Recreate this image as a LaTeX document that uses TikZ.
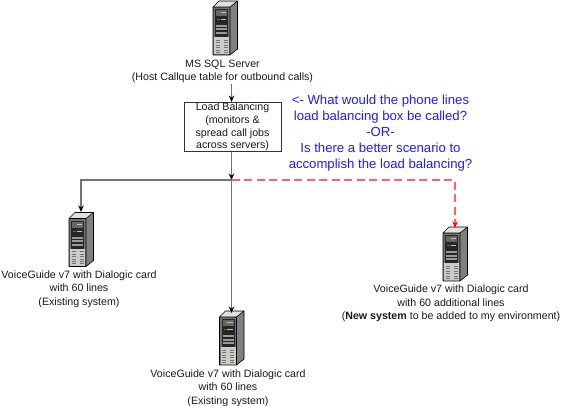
\documentclass[tikz,border=0pt]{standalone}
\usepackage{fontspec}
\setmainfont{Liberation Sans}
\usetikzlibrary{arrows.meta}
\definecolor{bluetxt}{RGB}{30,30,240}
\definecolor{reddash}{RGB}{255,100,110}
\tikzset{
  x=1pt,y=-1pt,
  lbl/.style={align=center,font=\fontsize{10.65}{13.4}\selectfont,inner sep=0pt,text=black!90},
  boxlbl/.style={align=center,font=\fontsize{10.65}{12.8}\selectfont,inner sep=0pt,text=black!90},
  question/.style={align=center,font=\fontsize{13.15}{16}\selectfont,inner sep=0pt,text=bluetxt},
  boxnode/.style={draw=black!80,line width=1pt,fill=white,inner sep=0pt,minimum width=97pt,minimum height=49pt},
  anchorbox/.style={inner sep=0pt,minimum width=25pt,minimum height=54pt},
  conn/.style={draw=black!55,line width=1.3pt},
  tip/.style={-{Stealth[length=6.5pt,width=5.5pt,black]}},
  rtip/.style={-{Stealth[length=6.5pt,width=5.5pt,red]}},
  redconn/.style={draw=reddash,line width=1.3pt,dash pattern=on 8pt off 4.5pt},
  pics/serverpic/.style={code={
    % origin: top-left of icon; 24.5 x 54
    \fill[black!50] (17,6)--(24.5,0)--(24.5,48)--(17,54)--cycle;
    \fill[black!12] (0,6)--(6,0)--(24.5,0)--(17,6)--cycle;
    \fill[black!55] (0,6) rectangle (17,54);
    \fill[black!20] (1,36) rectangle (16,53.5);
    \fill[black!85] (2,8) rectangle (15,36);
    \fill[black!60] (3,9) rectangle (14,15);
    \fill[green!70!black] (4,11) rectangle (6.5,12.2);
    \fill[black!25] (7.5,11) rectangle (13,12);
    \fill[green!70!black] (4,18) rectangle (6.5,19.2);
    \fill[black!25] (7.5,18) rectangle (13,19);
    \foreach \yy in {24,27.5,31} {\fill[black!40] (3,\yy) rectangle (14,\yy+2);}
    \foreach \yy in {39,41.5,44,46.5,49,51} {\draw[black!55,line width=0.5pt] (2.5,\yy)--(6.5,\yy) (10.5,\yy)--(14.5,\yy);}
    \fill[yellow!80!green] (8,43) rectangle (9.5,44.5);
    \draw[black,line width=0.6pt,line join=round] (0,6)--(6,0)--(24.5,0)--(24.5,48)--(17,54)--(0,54)--cycle (0,6)--(17,6)--(24.5,0) (17,6)--(17,54);
  }}
}
\begin{document}
\begin{tikzpicture}
\useasboundingbox (0,0) rectangle (561,406);
\fill[white] (0,0) rectangle (561,406);

\node[anchorbox,anchor=north west] (sql) at (213,1) {};
\pic at (213,1) {serverpic};
\node[anchorbox,anchor=north west] (left) at (69,212.5) {};
\pic at (69,212.5) {serverpic};
\node[anchorbox,anchor=north west] (mid) at (219.5,311) {};
\pic at (219.5,311) {serverpic};
\node[anchorbox,anchor=north west] (right) at (443,227) {};
\pic at (443,227) {serverpic};

\node[lbl] (sqllbl) at (222.5,71.5) {MS SQL Server\\(Host Callque table for outbound calls)};
\node[boxnode,boxlbl,anchor=north west] (lb) at (183.5,102) {\rule{0pt}{2pt}Load Balancing\\(monitors \&\\spread call jobs\\across servers)};
\node[question] (q) at (380.5,133) {<- What would the phone lines\\load balancing box be called?\\-OR-\\Is there a better scenario to\\accomplish the load balancing?};
\node[lbl] (leftlbl) at (79,289) {VoiceGuide v7 with Dialogic card\\with 60 lines\\(Existing system)};
\node[lbl] (midlbl) at (228,388) {VoiceGuide v7 with Dialogic card\\with 60 lines\\(Existing system)};
\node[lbl] (rightlbl) at (451,303.5) {VoiceGuide v7 with Dialogic card\\with 60 additional lines\\(\textbf{New system} to be added to my environment)};

\coordinate (jct) at (231.5,180);
\coordinate (sqlout) at (231.5,84);
\coordinate (lfttop) at (81,212);
\coordinate (midtop) at (231.5,313);
\coordinate (rgttop) at (455,228);

\draw[redconn,rtip] (jct) -| (rgttop);
\draw[conn,tip] (sqlout) -- (lb.north -| jct);
\draw[conn,tip] (lb.south -| jct) -- (jct);
\draw[conn,tip] (jct) -| (lfttop);
\draw[conn,tip] (jct) -- (midtop);
\end{tikzpicture}
\end{document}
